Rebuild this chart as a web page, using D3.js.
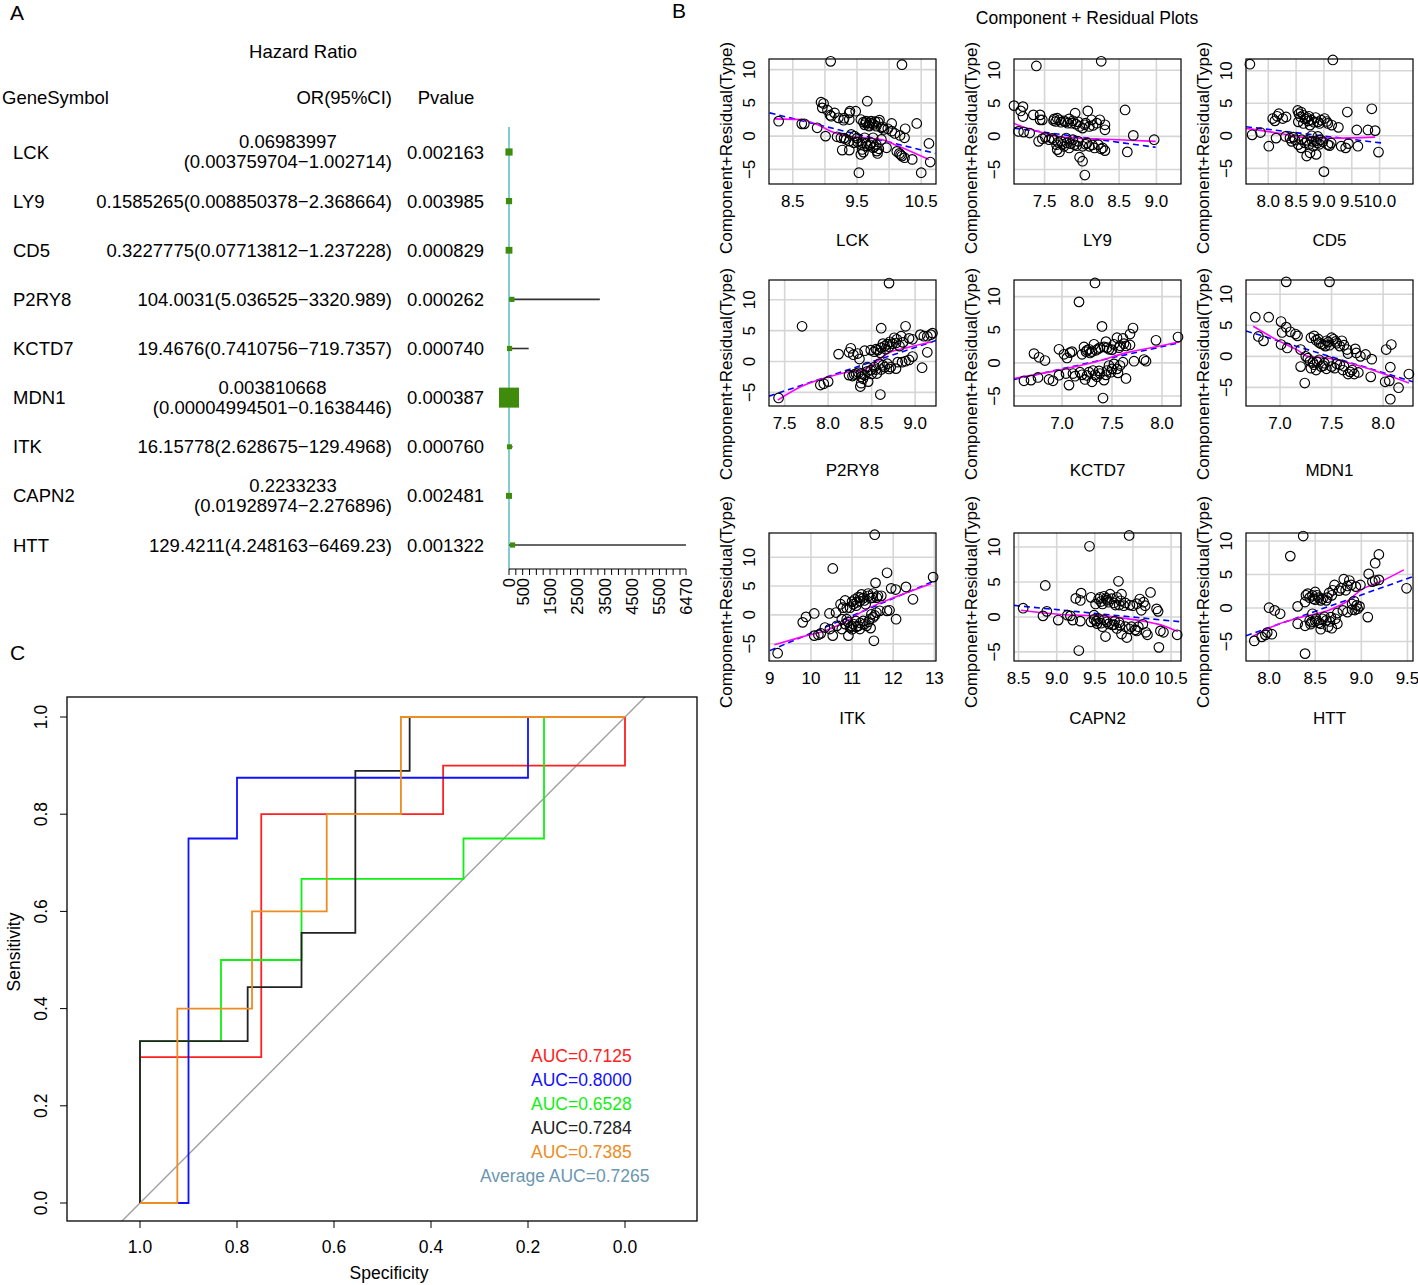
<!DOCTYPE html>
<html><head><meta charset="utf-8">
<script src="https://cdn.jsdelivr.net/npm/d3@7"></script>
<style>body{margin:0;background:#fff}svg text{font-family:"Liberation Sans",Arial,Helvetica,sans-serif}</style>
</head><body><svg id="c" width="1418" height="1285"></svg>
<script>
// ---------------- Panel A data ----------------
const genes = ["LCK","LY9","CD5","P2RY8","KCTD7","MDN1","ITK","CAPN2","HTT"];
const orValue = [0.06983997,0.1585265,0.3227775,104.0031,19.4676,0.003810668,16.15778,0.2233233,129.4211];
const orLower = [0.003759704,0.008850378,0.07713812,5.036525,0.7410756,0.00004994501,2.628675,0.01928974,4.248163];
const orUpper = [1.002714,2.368664,1.237228,3320.989,719.7357,0.1638446,129.4968,2.276896,6469.23];
const orText = [
 "0.06983997\n(0.003759704\u22121.002714)",
 "0.1585265(0.008850378\u22122.368664)",
 "0.3227775(0.07713812\u22121.237228)",
 "104.0031(5.036525\u22123320.989)",
 "19.4676(0.7410756\u2212719.7357)",
 "0.003810668\n(0.00004994501\u22120.1638446)",
 "16.15778(2.628675\u2212129.4968)",
 "0.2233233\n(0.01928974\u22122.276896)",
 "129.4211(4.248163\u22126469.23)"];
const pValue = ["0.002163","0.003985","0.000829","0.000262","0.000740","0.000387","0.000760","0.002481","0.001322"];
const boxWeight = [0.36,0.31,0.34,0.26,0.26,1,0.25,0.3,0.26];
const forestTicks = d3.range(0,6470,250).concat([6470]);
const forestTickLabels = [0,500,1500,2500,3500,4500,5500,6470];

// ---------------- Panel B data ----------------
const crLCK = [[9.09,11.25],[10.2,10.75],[8.28,2.25],[8.64,1.85],[8.68,1.85],[8.88,1.25],[9.01,0],[8.94,5.1],[8.98,4.9],[8.96,4.25],[9.04,3.9],[9.08,3.15],[9.15,3.5],[9.21,2.75],[9.29,2.4],[9.38,3.5],[9.38,2.5],[9.39,3.75],[9.48,3.75],[9.66,5.25],[9.56,2.5],[9.64,2.0],[9.69,1.5],[9.72,2.25],[9.76,1.75],[9.83,2.1],[9.85,2.4],[9.64,2.25],[9.68,1.6],[9.8,1.5],[9.88,1.25],[9.92,1.0],[9.98,1.1],[10.04,1.9],[10.04,0.75],[10.09,0.4],[10.17,0.1],[10.25,1.1],[10.24,-0.25],[10.43,1.9],[9.19,-0.1],[9.25,-0.25],[9.33,-0.5],[9.38,-0.75],[9.27,-2.1],[9.38,-2.1],[9.51,-0.9],[9.56,-1.25],[9.58,-2.0],[9.56,-2.75],[9.6,-2.4],[9.66,-1.5],[9.72,-1.0],[9.75,-1.75],[9.8,-1.25],[9.81,-2.25],[9.82,-2.6],[9.96,-1.75],[9.53,-5.5],[10.16,-2.6],[10.2,-3.0],[10.24,-3.25],[10.36,-3.5],[10.5,-5.5],[10.62,-1.1],[10.64,-3.9],[9.41,0.25],[9.46,0],[9.62,-0.25],[9.75,-0.25],[9.88,-0.5],
 [9.6,2.1],[9.7,2.0],[9.74,1.9],[9.78,2.2],[9.62,1.7],[9.58,-1.0],[9.64,-1.1],[9.7,-1.3],[9.77,-1.6],[9.84,-1.9],[9.5,-0.3],[9.3,-0.3],[9.45,-1.0],[9.9,1.4],[9.3,2.7],[9.1,3.0],[10.12,-2.3],[10.18,-2.8]];
const smLCK = [[8.22,2.6],[8.62,2.5],[8.88,1.75],[9.09,0.75],[9.35,0],[9.62,-0.25],[9.88,-0.5],[10.14,-1.5],[10.41,-2.6],[10.62,-3.5]];
const fitLCK = [[8.14,3.5],[10.72,-2.6]];

const crLY9 = [[7.39,10.65],[8.26,11.35],[7.09,4.65],[7.21,4.5],[7.18,3.85],[7.21,3.0],[7.15,0.75],[7.22,0.65],[7.3,0.5],[7.44,2.5],[7.44,3.25],[7.47,2.5],[7.42,-0.75],[7.47,-0.35],[7.51,-0.15],[7.56,-0.5],[7.63,2.65],[7.65,2.25],[7.67,2.75],[7.72,2.15],[7.76,2.35],[7.81,2.0],[7.83,2.65],[7.88,2.35],[7.91,3.5],[7.92,1.85],[7.97,1.5],[8.01,1.25],[8.04,1.75],[8.08,3.85],[8.13,2.5],[8.15,1.65],[8.2,2.0],[8.24,2.5],[8.31,1.75],[8.31,1.0],[7.63,-0.5],[7.66,-1.25],[7.67,-2.0],[7.7,-2.35],[7.72,-0.75],[7.76,-1.5],[7.8,-1.0],[7.83,-1.75],[7.88,-0.5],[7.9,-1.25],[7.95,-0.75],[7.97,-3.15],[8.01,-3.75],[8.04,-5.85],[8.01,-1.5],[8.07,-1.0],[8.1,-1.5],[8.17,-1.75],[8.22,-1.25],[8.28,-1.75],[8.31,-2.15],[8.58,4.0],[8.61,-2.35],[8.69,0.15],[8.97,-0.5],[7.35,3.25],[7.79,-0.25],
 [7.62,2.4],[7.7,2.5],[7.78,2.2],[7.86,2.0],[7.95,2.2],[8.05,2.0],[8.1,1.5],[7.68,-0.9],[7.74,-1.2],[7.85,-1.1],[7.93,-1.4],[8.05,-1.2],[8.14,-1.3],[8.26,-1.9],[7.6,-0.3]];
const smLY9 = [[7.09,1.95],[7.26,1.25],[7.49,0.5],[7.76,-0.15],[8.13,-0.35],[8.49,-0.5],[8.99,-0.75]];
const fitLY9 = [[7.09,1.25],[8.99,-1.65]];

const crCD5 = [[7.67,11.0],[9.16,11.65],[7.71,0.15],[7.86,0.5],[8.01,-1.6],[8.08,2.65],[8.12,2.3],[8.16,3.0],[8.19,3.4],[8.26,2.65],[8.32,2.9],[8.14,-0.35],[8.31,-0.1],[8.39,-0.35],[8.42,-0.85],[8.53,3.9],[8.55,3.4],[8.59,3.65],[8.63,3.15],[8.69,2.8],[8.73,3.0],[8.78,2.4],[8.85,2.8],[8.89,2.15],[8.95,2.4],[9.01,2.65],[9.07,1.9],[9.14,1.65],[9.26,1.3],[8.54,2.15],[8.63,1.9],[8.75,1.65],[8.48,-0.6],[8.54,-1.35],[8.59,-1.85],[8.66,-1.1],[8.69,-3.1],[8.75,-2.6],[8.79,-0.85],[8.81,-1.6],[8.86,-2.85],[8.88,-1.1],[8.94,-0.6],[9.0,-5.5],[9.07,-1.35],[9.13,-1.1],[9.31,-1.6],[9.39,-1.85],[9.44,-1.2],[9.42,3.65],[9.59,0.9],[9.61,-1.6],[9.79,0.9],[9.86,4.15],[9.92,0.8],[9.98,-2.5],[8.78,0],[8.89,-0.1],
 [8.58,2.9],[8.66,2.6],[8.72,2.3],[8.82,2.1],[8.92,1.9],[9.05,2.2],[8.6,-0.6],[8.7,-0.7],[8.73,-1.4],[8.85,-0.8],[8.92,-1.3],[8.98,-0.9],[9.1,-1.5],[8.45,-0.2]];
const smCD5 = [[7.6,1.15],[8.19,0.4],[8.6,-0.2],[9.19,-0.35],[9.92,-0.2]];
const fitCD5 = [[7.6,1.4],[10.04,-1.1]];

const crP2RY8 = [[7.43,-5.9],[7.7,5.7],[7.91,-3.8],[7.95,-3.6],[8.0,-3.25],[8.12,1.2],[8.26,2.15],[8.24,1.5],[8.29,1.1],[8.34,1.3],[8.36,0.4],[8.37,-4.05],[8.38,-3.5],[8.24,-2.2],[8.28,-2.35],[8.32,-1.95],[8.38,-2.45],[8.42,-2.2],[8.46,-3.25],[8.49,1.85],[8.53,1.6],[8.57,1.85],[8.61,5.4],[8.61,2.25],[8.63,2.9],[8.65,2.5],[8.68,2.8],[8.71,3.2],[8.74,2.9],[8.76,3.85],[8.79,3.6],[8.82,2.5],[8.84,4.1],[8.89,5.7],[8.93,3.75],[8.97,3.6],[8.45,-0.9],[8.49,-1.4],[8.53,-0.9],[8.56,-1.95],[8.59,-0.35],[8.61,-1.3],[8.6,-5.35],[8.65,-0.9],[8.68,-0.35],[8.72,-0.9],[8.78,-1.15],[8.8,-0.1],[8.85,-0.1],[8.89,0.05],[8.93,0.25],[8.97,0.8],[8.7,12.7],[9.06,4.35],[9.1,4.1],[9.14,4.1],[9.18,4.35],[9.2,4.6],[9.08,-1.0],[9.14,1.5],[8.42,1.75],[8.38,-1.95],
 [8.55,2.0],[8.6,1.4],[8.66,2.0],[8.7,2.4],[8.78,3.0],[8.86,3.1],[8.3,-2.1],[8.35,-1.8],[8.45,-1.6],[8.5,-2.0],[8.55,-1.3],[8.63,-0.6],[8.7,-1.2],[8.4,-2.8]];
const smP2RY8 = [[7.42,-6.25],[7.69,-4.05],[8.0,-2.5],[8.23,-1.7],[8.42,-1.3],[8.57,0.15],[8.68,1.3],[8.91,2.25],[9.18,3.15]];
const fitP2RY8 = [[7.32,-5.6],[9.24,3.4]];

const crKCTD7 = [[6.62,-2.7],[6.69,-2.6],[6.76,-2.2],[6.72,1.4],[6.77,0.85],[6.83,0.35],[6.87,-2.5],[6.91,-2.7],[6.97,-1.85],[6.97,2.05],[7.02,1.3],[7.05,0.75],[7.08,1.55],[7.1,1.7],[7.07,-3.35],[7.04,-1.6],[7.11,-1.6],[7.13,-2.0],[7.17,9.2],[7.2,1.3],[7.22,2.4],[7.24,1.7],[7.27,2.05],[7.3,1.7],[7.32,2.8],[7.34,1.9],[7.33,12.05],[7.38,2.3],[7.4,5.5],[7.42,2.4],[7.44,3.2],[7.47,2.05],[7.52,2.8],[7.55,3.8],[7.57,2.3],[7.61,3.7],[7.64,2.55],[7.68,4.35],[7.71,5.25],[7.68,2.7],[7.18,-1.4],[7.23,-2.5],[7.27,-1.4],[7.3,-2.85],[7.31,-1.15],[7.35,-2.1],[7.38,-1.6],[7.41,-5.3],[7.42,-2.6],[7.45,-1.15],[7.47,-0.4],[7.49,-1.4],[7.52,-0.15],[7.55,-0.9],[7.58,-0.4],[7.61,0.1],[7.64,-2.35],[7.72,0.25],[7.82,0.5],[7.84,0.25],[7.94,3.4],[8.16,3.9],
 [7.25,1.9],[7.28,1.5],[7.36,2.1],[7.45,2.3],[7.5,2.0],[7.58,2.6],[7.62,2.9],[7.25,-1.9],[7.33,-1.8],[7.37,-1.2],[7.44,-1.8],[7.5,-0.9],[7.56,-1.5],[7.2,-1.8]];
const smKCTD7 = [[6.52,-2.35],[6.98,-1.05],[7.32,0.1],[7.65,1.55],[7.98,2.55],[8.18,3.2]];
const fitKCTD7 = [[6.52,-2.5],[8.18,3.05]];

const crMDN1 = [[6.76,6.3],[6.89,6.3],[6.79,3.2],[6.84,2.5],[7.01,5.6],[7.06,4.7],[7.02,3.85],[7.06,12.0],[7.48,12.0],[7.01,1.9],[7.07,1.35],[7.1,3.95],[7.15,3.6],[7.17,3.3],[7.2,1.1],[7.2,-1.65],[7.24,-4.3],[7.25,0],[7.3,3.0],[7.33,3.3],[7.35,2.6],[7.38,2.2],[7.42,1.9],[7.44,1.65],[7.47,2.3],[7.5,3.0],[7.52,2.75],[7.55,2.1],[7.58,1.65],[7.6,2.5],[7.65,1.1],[7.66,0.45],[7.73,1.2],[7.74,0.55],[7.78,0],[7.83,0.3],[7.89,-0.45],[7.29,-0.8],[7.3,-1.9],[7.33,-1.35],[7.35,-2.2],[7.38,-0.55],[7.4,-1.65],[7.43,-1.1],[7.47,-0.8],[7.5,-1.65],[7.53,-1.9],[7.58,-1.35],[7.61,-2.2],[7.66,-2.85],[7.7,-2.2],[7.72,-2.85],[7.76,-2.6],[7.88,-3.3],[8.03,1.1],[8.08,1.9],[8.07,-1.75],[8.02,-4.1],[8.06,-3.95],[8.07,-6.9],[8.15,-5.05],[8.25,-2.85],
 [7.37,2.8],[7.4,2.0],[7.45,2.5],[7.48,1.8],[7.54,2.4],[7.62,1.8],[7.32,-1.0],[7.36,-0.9],[7.42,-1.5],[7.45,-2.0],[7.55,-1.2],[7.62,-1.6],[7.68,-2.5],[7.27,-0.3]];
const smMDN1 = [[6.74,4.85],[6.97,2.65],[7.17,1.0],[7.27,0],[7.47,-0.3],[7.79,-1.65],[8.25,-4.3]];
const fitMDN1 = [[6.67,4.1],[8.29,-4.1]];

const crITK = [[9.19,-6.65],[9.8,-1.3],[9.88,-0.35],[10.08,0.25],[10.08,-3.6],[10.18,-3.45],[10.24,-3.2],[10.45,0.25],[10.53,8.05],[10.53,-3.6],[10.46,-2.45],[10.61,0.4],[10.72,1.85],[10.78,1.25],[10.83,2.5],[10.87,1.15],[10.91,-3.6],[10.95,1.25],[10.99,-1.9],[11.03,1.85],[11.07,2.7],[11.11,2.15],[11.15,3.1],[11.19,2.4],[11.23,3.55],[11.27,2.9],[11.33,1.85],[11.39,3.7],[11.45,2.9],[11.51,3.7],[11.55,13.9],[11.57,5.55],[11.63,3.3],[11.71,3.3],[10.75,-0.75],[10.75,-2.45],[10.83,-1.6],[10.87,-0.75],[10.95,-2.2],[11.03,-1.6],[11.09,-1.05],[11.15,-1.9],[11.19,-2.45],[11.27,-1.05],[11.35,-1.9],[11.43,-0.75],[11.47,0.1],[11.51,-0.45],[11.53,-4.5],[11.59,0.4],[11.67,0.7],[11.85,7.3],[11.85,0.7],[11.91,0.8],[11.95,4.6],[12.06,4.4],[12.07,-0.75],[12.31,4.85],[12.48,2.7],[12.97,6.55],[10.63,-1.9],[10.34,-2.2],
 [11.0,2.3],[11.1,1.6],[11.2,3.0],[11.3,2.5],[11.4,3.3],[11.5,3.0],[11.6,3.0],[10.9,-1.2],[11.0,-2.5],[11.1,-2.1],[11.2,-1.4],[11.3,-1.6],[11.4,-1.2],[11.45,-2.3],[11.55,-0.1]];
const smITK = [[9.11,-5.2],[9.74,-3.9],[10.38,-2.65],[10.87,-1.05],[11.35,1.0],[11.91,2.7],[12.92,5.4]];
const fitITK = [[9.0,-6.2],[13.04,6.0]];

const crCAPN2 = [[8.56,1.25],[8.82,0.15],[8.85,4.5],[8.87,0.8],[9.02,-0.45],[9.14,0.25],[9.18,0.15],[9.21,-0.45],[9.25,2.65],[9.31,2.35],[9.32,3.4],[9.29,-4.8],[9.31,-0.6],[9.43,10.1],[9.45,2.8],[9.45,-0.7],[9.49,-0.35],[9.51,1.85],[9.53,-0.95],[9.55,2.55],[9.57,2.8],[9.6,1.85],[9.6,-1.4],[9.62,2.95],[9.65,2.65],[9.66,-0.7],[9.68,2.1],[9.7,3.25],[9.73,-1.15],[9.64,-2.8],[9.75,2.0],[9.77,1.7],[9.79,2.8],[9.81,5.1],[9.82,1.7],[9.85,3.25],[9.88,1.6],[9.76,-0.6],[9.79,-1.65],[9.82,-0.8],[9.85,-2.45],[9.9,-1.4],[9.92,-2.95],[9.95,11.65],[9.96,1.7],[9.98,-1.4],[10.0,1.6],[10.03,-1.85],[10.07,-1.4],[10.09,2.55],[10.11,0.95],[10.13,-1.05],[10.14,2.1],[10.16,1.6],[10.17,-2.2],[10.19,-2.55],[10.23,3.5],[10.31,1.15],[10.33,0.8],[10.34,-4.35],[10.36,-2.0],[10.4,-2.2],[10.58,-2.55],[9.55,-0.25],[9.49,0.25],
 [9.58,2.2],[9.66,2.4],[9.72,2.6],[9.84,2.3],[9.9,2.0],[10.05,1.9],[9.52,-0.6],[9.58,-0.9],[9.68,-1.0],[9.75,-1.1],[9.83,-1.2],[9.95,-1.7],[10.05,-2.0],[9.62,-0.4]];
const smCAPN2 = [[8.53,0.95],[9.05,0.35],[9.62,0.15],[9.92,-0.25],[10.18,-0.7],[10.4,-1.25],[10.59,-2.1]];
const fitCAPN2 = [[8.44,1.65],[10.63,-0.7]];

const crHTT = [[7.84,-4.9],[7.92,-4.3],[7.96,-4.0],[7.98,-3.65],[8.03,-3.9],[8.0,0.05],[8.06,-0.35],[8.12,-0.85],[8.23,7.75],[8.31,0.25],[8.31,-2.35],[8.37,10.75],[8.39,-6.8],[8.39,-2.65],[8.39,0.9],[8.42,2.15],[8.44,1.55],[8.44,-1.85],[8.47,1.9],[8.5,1.25],[8.5,2.4],[8.51,-1.6],[8.54,1.55],[8.56,-3.15],[8.56,1.15],[8.58,-1.6],[8.62,-1.85],[8.63,1.55],[8.64,-2.8],[8.65,2.25],[8.67,-1.35],[8.68,-3.0],[8.69,2.65],[8.71,3.45],[8.74,-2.35],[8.74,-0.75],[8.78,2.95],[8.8,-0.35],[8.81,4.3],[8.83,2.65],[8.85,-0.6],[8.87,4.1],[8.89,3.45],[8.9,-0.25],[8.92,1.05],[8.94,3.2],[8.95,0.4],[8.96,-0.1],[8.98,0.25],[8.99,3.45],[9.07,-1.35],[9.08,5.1],[9.12,3.95],[9.15,4.1],[9.15,6.7],[9.19,8.0],[9.19,4.2],[9.49,2.95],[8.56,-2.35],[8.46,-2.1],[8.62,1.15],[8.47,-0.85],
 [8.4,1.9],[8.48,1.4],[8.52,1.9],[8.58,1.4],[8.68,1.9],[8.76,2.6],[8.85,3.3],[8.45,-2.4],[8.5,-1.9],[8.54,-2.2],[8.6,-1.3],[8.66,-2.0],[8.72,-1.6],[8.9,0.6],[8.93,-0.3]];
const smHTT = [[7.81,-4.3],[8.1,-2.4],[8.35,-1.35],[8.64,-0.35],[8.85,1.05],[8.99,2.65],[9.21,3.95],[9.46,5.7]];
const fitHTT = [[7.75,-4.15],[9.56,4.7]];

// axis ranges and tick labels
const xRangeB = {LCK:[8.13,10.73],LY9:[7.09,9.33],CD5:[7.6,10.6],P2RY8:[7.32,9.24],KCTD7:[6.52,8.19],MDN1:[6.67,8.29],ITK:[8.98,13.04],CAPN2:[8.44,10.63],HTT:[7.75,9.56]};
const yRangeB = {LCK:[-7.2,11.6],LY9:[-7.2,11.7],CD5:[-7.4,11.8],P2RY8:[-7.2,13.2],KCTD7:[-6.5,12.5],MDN1:[-8.0,12.3],ITK:[-8.0,14.2],CAPN2:[-6.3,12.0],HTT:[-7.9,11.2]};
const xGridB = {LCK:[8.5,9,9.5,10,10.5],LY9:[7.5,8,8.5,9],CD5:[8,8.5,9,9.5,10],P2RY8:[7.5,8,8.5,9],KCTD7:[7,7.5,8],MDN1:[7,7.5,8],ITK:[9,10,11,12,13],CAPN2:[8.5,9,9.5,10,10.5],HTT:[8,8.5,9,9.5]};
const xLabelsB = {LCK:["8.5","9.5","10.5"],LY9:["7.5","8.0","8.5","9.0"],CD5:["8.0","8.5","9.0","9.5","10.0"],P2RY8:["7.5","8.0","8.5","9.0"],KCTD7:["7.0","7.5","8.0"],MDN1:["7.0","7.5","8.0"],ITK:["9","10","11","12","13"],CAPN2:["8.5","9.0","9.5","10.0","10.5"],HTT:["8.0","8.5","9.0","9.5"]};
const yTicksB = [-5,0,5,10];
const yLabelsB = ["\u22125","0","5","10"];

// ---------------- Panel C data ----------------
const rocRed    = [[1,0],[1,0.3],[0.75,0.3],[0.75,0.8],[0.375,0.8],[0.375,0.9],[0,0.9],[0,1]];
const rocBlue   = [[1,0],[0.9,0],[0.9,0.75],[0.8,0.75],[0.8,0.875],[0.2,0.875],[0.2,1],[0,1]];
const rocGreen  = [[1,0],[1,0.333],[0.833,0.333],[0.833,0.5],[0.667,0.5],[0.667,0.667],[0.333,0.667],[0.333,0.75],[0.167,0.75],[0.167,1],[0,1]];
const rocBlack  = [[1,0],[1,0.333],[0.778,0.333],[0.778,0.444],[0.667,0.444],[0.667,0.556],[0.556,0.556],[0.556,0.889],[0.444,0.889],[0.444,1],[0,1]];
const rocOrange = [[1,0],[0.923,0],[0.923,0.4],[0.769,0.4],[0.769,0.6],[0.615,0.6],[0.615,0.8],[0.462,0.8],[0.462,1],[0,1]];
const aucLabels = ["AUC=0.7125","AUC=0.8000","AUC=0.6528","AUC=0.7284","AUC=0.7385"];
const avgLabel = "Average AUC=0.7265";
const rocTicks = [1.0,0.8,0.6,0.4,0.2,0.0];

// ================= drawing =================
const svg = d3.select("#c");
const FS = 18.5;
function txt(g,s,x,y,anchor,size,color){
  return g.append("text").attr("x",x).attr("y",y).attr("text-anchor",anchor||"start")
   .attr("dominant-baseline","central").attr("font-size",size||FS).attr("fill",color||"#000").text(s);
}
function vtxt(g,s,x,y,anchor,size,color){
  return g.append("text").attr("transform",`translate(${x},${y}) rotate(-90)`).attr("text-anchor",anchor||"middle")
   .attr("dominant-baseline","central").attr("font-size",size||FS).attr("fill",color||"#000").text(s);
}

// panel letters
txt(svg,"A",10,12,"start",21);
txt(svg,"B",672,10,"start",21);
txt(svg,"C",10,652,"start",21);

// ---------- Panel A ----------
const gA = svg.append("g");
const fy = d3.scalePoint().domain(genes).range([152,545]);
const fx = d3.scaleLinear().domain([0,6470]).range([509,686]);
const fsz = d3.scaleLinear().domain([0,1]).range([0,20]);
txt(gA,"Hazard Ratio",303,51,"middle");
txt(gA,"GeneSymbol",2,97,"start");
txt(gA,"OR(95%CI)",392,97,"end");
txt(gA,"Pvalue",446,97,"middle");
genes.forEach((g,i)=>{
  const y = fy(g);
  txt(gA,g,13,y,"start");
  const lines = orText[i].split("\n");
  if(lines.length===1){ txt(gA,lines[0],392,y,"end"); }
  else {
    const t2 = txt(gA,lines[1],392,y+9.5,"end");
    const bb = t2.node().getBBox();
    txt(gA,lines[0],bb.x+bb.width/2,y-10.5,"middle");
  }
  txt(gA,pValue[i],407,y,"start");
});
gA.append("line").attr("x1",fx(0)).attr("x2",fx(0)).attr("y1",127).attr("y2",569)
  .attr("stroke","#80cfd0").attr("stroke-width",2);
genes.forEach((g,i)=>{
  const y = fy(g);
  gA.append("line").attr("x1",fx(orLower[i])).attr("x2",fx(Math.min(orUpper[i],6470))).attr("y1",y).attr("y2",y)
    .attr("stroke","#333").attr("stroke-width",1.6);
  const s = fsz(boxWeight[i]);
  gA.append("rect").attr("x",fx(orValue[i])-s/2).attr("y",y-s/2).attr("width",s).attr("height",s).attr("fill","#3f8c0c");
});
// forest axis
gA.append("line").attr("x1",fx(0)).attr("x2",fx(6470)).attr("y1",569).attr("y2",569).attr("stroke","#000").attr("stroke-width",1.2);
forestTicks.forEach(t=>{
  gA.append("line").attr("x1",fx(t)).attr("x2",fx(t)).attr("y1",569).attr("y2",575).attr("stroke","#000").attr("stroke-width",1);
});
forestTickLabels.forEach(t=>{
  vtxt(gA,String(t),fx(t),578,"end",16.5);
});

// ---------- Panel B ----------
const gB = svg.append("g");
txt(gB,"Component + Residual Plots",1087,18,"middle",17.5);
const panelGenes = ["LCK","LY9","CD5","P2RY8","KCTD7","MDN1","ITK","CAPN2","HTT"];
const panelPts = [crLCK,crLY9,crCD5,crP2RY8,crKCTD7,crMDN1,crITK,crCAPN2,crHTT];
const panelSm = [smLCK,smLY9,smCD5,smP2RY8,smKCTD7,smMDN1,smITK,smCAPN2,smHTT];
const panelFit = [fitLCK,fitLY9,fitCD5,fitP2RY8,fitKCTD7,fitMDN1,fitITK,fitCAPN2,fitHTT];
const colLeft = [769,1014,1246], colW = 167;
const rowTop = [59,280,533], rowH = [125,126,128];
const ylabCenter = [148,374,602], xlabY = [240,470,718];
const BF = 17;
panelGenes.forEach((name,i)=>{
  const c=i%3, r=Math.floor(i/3);
  const L=colLeft[c], T=rowTop[r], W=colW, H=rowH[r];
  const x = d3.scaleLinear().domain(xRangeB[name]).range([L,L+W]);
  const y = d3.scaleLinear().domain(yRangeB[name]).range([T+H,T]);
  const g = gB.append("g");
  const cid = "clip"+i;
  g.append("clipPath").attr("id",cid).append("rect").attr("x",L).attr("y",T).attr("width",W).attr("height",H);
  const inner = g.append("g").attr("clip-path",`url(#${cid})`);
  xGridB[name].forEach(v=>{
    inner.append("line").attr("x1",x(v)).attr("x2",x(v)).attr("y1",T).attr("y2",T+H).attr("stroke","#d6d6d6").attr("stroke-width",1.6);
  });
  yTicksB.forEach(v=>{
    inner.append("line").attr("x1",L).attr("x2",L+W).attr("y1",y(v)).attr("y2",y(v)).attr("stroke","#d6d6d6").attr("stroke-width",1.6);
  });
  g.selectAll("circle.p"+i).data(panelPts[i]).enter().append("circle")
    .attr("cx",d=>x(d[0])).attr("cy",d=>y(d[1])).attr("r",4.8)
    .attr("fill","none").attr("stroke","#000").attr("stroke-width",1.15);
  const ln = d3.line().x(d=>x(d[0])).y(d=>y(d[1]));
  inner.append("path").attr("d",ln(panelFit[i])).attr("fill","none").attr("stroke","#0000ff").attr("stroke-width",1.6).attr("stroke-dasharray","6,4");
  inner.append("path").attr("d",ln.curve(d3.curveMonotoneX)(panelSm[i])).attr("fill","none").attr("stroke","#ff00ff").attr("stroke-width",1.6);
  g.append("rect").attr("x",L).attr("y",T).attr("width",W).attr("height",H).attr("fill","none").attr("stroke","#000").attr("stroke-width",1.2);
  xLabelsB[name].forEach(s=>{ txt(g,s,x(parseFloat(s)),T+H+17,"middle",BF); });
  yTicksB.forEach((v,k)=>{ vtxt(g,yLabelsB[k],L-20,y(v),"middle",BF); });
  txt(g,name,(L+L+W)/2,xlabY[r],"middle",BF);
  vtxt(g,"Component+Residual(Type)",L-43,ylabCenter[r],"middle",BF);
});

// ---------- Panel C ----------
const gC = svg.append("g");
const bx0=67,bx1=697,by0=697,by1=1221;
const rx = d3.scaleLinear().domain([1,0]).range([140,625]);
const ry = d3.scaleLinear().domain([0,1]).range([1203,717]);
gC.append("clipPath").attr("id","rocclip").append("rect").attr("x",bx0).attr("y",by0).attr("width",bx1-bx0).attr("height",by1-by0);
const rin = gC.append("g").attr("clip-path","url(#rocclip)");
rin.append("line").attr("x1",rx(1.3)).attr("y1",ry(-0.3)).attr("x2",rx(-0.3)).attr("y2",ry(1.3)).attr("stroke","#a0a0a0").attr("stroke-width",1.4);
const rline = d3.line().x(d=>rx(d[0])).y(d=>ry(d[1]));
const rocs = [rocRed,rocBlue,rocGreen,rocBlack,rocOrange];
const rocCols = ["#ff2020","#1010ff","#10f010","#222222","#ec8c22"];
rocs.forEach((r,i)=>{
  rin.append("path").attr("d",rline(r)).attr("fill","none").attr("stroke",rocCols[i]).attr("stroke-width",1.8);
});
gC.append("rect").attr("x",bx0).attr("y",by0).attr("width",bx1-bx0).attr("height",by1-by0).attr("fill","none").attr("stroke","#000").attr("stroke-width",1.3);
rocTicks.forEach(t=>{
  gC.append("line").attr("x1",rx(t)).attr("x2",rx(t)).attr("y1",by1).attr("y2",by1+7).attr("stroke","#000");
  txt(gC,t.toFixed(1),rx(t),1247,"middle",17.5);
  gC.append("line").attr("x1",bx0).attr("x2",bx0-7).attr("y1",ry(t)).attr("y2",ry(t)).attr("stroke","#000");
  vtxt(gC,t.toFixed(1),41,ry(t),"middle",17.5);
});
txt(gC,"Specificity",389,1273,"middle",17.5);
vtxt(gC,"Sensitivity",14,952,"middle",17.5);
aucLabels.forEach((s,i)=>{ txt(gC,s,531,1056+24*i,"start",17.5,rocCols[i]); });
txt(gC,avgLabel,480,1176,"start",17.5,"#6b97b0");
</script></body></html>
